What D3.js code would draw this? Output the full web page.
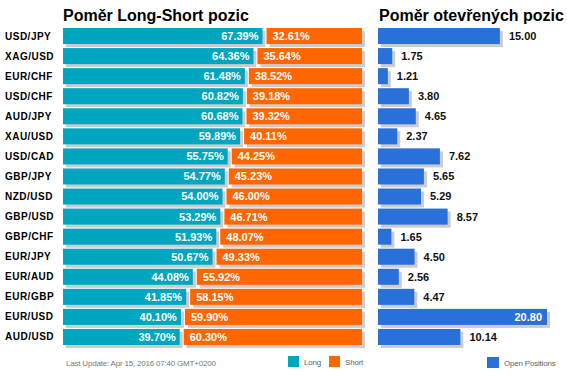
<!DOCTYPE html>
<html>
<head>
<meta charset="utf-8">
<script src="https://cdn.jsdelivr.net/npm/d3@7"></script>
<style>
  body { margin: 0; background: #fff; }
  svg { display: block; font-family: 'Liberation Sans', Arial, sans-serif; }
</style>
</head>
<body>
<div id="chart"></div>
<script>
const pairs = ['USD/JPY', 'XAG/USD', 'EUR/CHF', 'USD/CHF', 'AUD/JPY', 'XAU/USD', 'USD/CAD', 'GBP/JPY',
  'NZD/USD', 'GBP/USD', 'GBP/CHF', 'EUR/JPY', 'EUR/AUD', 'EUR/GBP', 'EUR/USD', 'AUD/USD'];
const longPct = [67.39, 64.36, 61.48, 60.82, 60.68, 59.89, 55.75, 54.77, 54.00, 53.29, 51.93, 50.67, 44.08, 41.85, 40.10, 39.70];
const shortPct = [32.61, 35.64, 38.52, 39.18, 39.32, 40.11, 44.25, 45.23, 46.00, 46.71, 48.07, 49.33, 55.92, 58.15, 59.90, 60.30];
const openPos = [15.00, 1.75, 1.21, 3.80, 4.65, 2.37, 7.62, 5.65, 5.29, 8.57, 1.65, 4.50, 2.56, 4.47, 20.80, 10.14];
const legendLS = ['Long', 'Short'];
const legendOpen = ['Open Positions'];
const lastUpdate = 'Last Update: Apr 15, 2016 07:40 GMT+0200';

const width = 567;
const height = 375;
const colLong = '#00a6c0';
const colShort = '#ff6600';
const colOpen = '#2970d9';
const colShadow = '#cccccc';

const rows = pairs.map((p, i) => ({ pair: p, long: longPct[i], short: shortPct[i], open: openPos[i] }));

const svg = d3.select('#chart').append('svg')
  .attr('width', width)
  .attr('height', height);

const y = d3.scaleBand()
  .domain(pairs)
  .range([26, 347])
  .paddingInner(0.2)
  .paddingOuter(0.1);
const bh = y.bandwidth();

const xLS = d3.scaleLinear().domain([0, 100]).range([63, 362]);
const xOpen = d3.scaleLinear().domain([0, 20.8]).range([378, 547]);
const fmt = d3.format('.2f');

// titles
svg.append('text').attr('x', 63).attr('y', 21)
  .attr('font-size', 16).attr('font-weight', 'bold').attr('fill', '#000')
  .text('Poměr Long-Short pozic');
svg.append('text').attr('x', 379).attr('y', 21)
  .attr('font-size', 16).attr('font-weight', 'bold').attr('fill', '#000')
  .text('Poměr otevřených pozic');

// row labels
svg.append('g').selectAll('text').data(rows).join('text')
  .attr('x', 5)
  .attr('y', d => y(d.pair) + bh / 2)
  .attr('dy', '0.35em')
  .attr('font-size', 10).attr('font-weight', 'bold').attr('fill', '#000')
  .attr('letter-spacing', 0.5)
  .text(d => d.pair);

const gap = 2;
const off = 3;

// long / short bars
const gLS = svg.append('g');
const rowLS = gLS.selectAll('g').data(rows).join('g')
  .attr('transform', d => `translate(0,${y(d.pair)})`);

rowLS.append('rect')
  .attr('x', xLS(0) + off).attr('y', off)
  .attr('width', d => xLS(d.long) - gap - xLS(0)).attr('height', bh)
  .attr('fill', colShadow);
rowLS.append('rect')
  .attr('x', d => xLS(d.long) + gap + off).attr('y', off)
  .attr('width', d => xLS(100) - xLS(d.long) - gap).attr('height', bh)
  .attr('fill', colShadow);
rowLS.append('rect')
  .attr('x', xLS(0)).attr('y', 0)
  .attr('width', d => xLS(d.long) - gap - xLS(0)).attr('height', bh)
  .attr('fill', colLong);
rowLS.append('rect')
  .attr('x', d => xLS(d.long) + gap).attr('y', 0)
  .attr('width', d => xLS(100) - xLS(d.long) - gap).attr('height', bh)
  .attr('fill', colShort);

rowLS.append('text')
  .attr('x', d => xLS(d.long) - gap - 4)
  .attr('y', bh / 2).attr('dy', '0.36em')
  .attr('text-anchor', 'end')
  .attr('font-size', 11).attr('font-weight', 'bold').attr('fill', '#fff')
  .text(d => fmt(d.long) + '%');
rowLS.append('text')
  .attr('x', d => xLS(d.long) + gap + 6)
  .attr('y', bh / 2).attr('dy', '0.36em')
  .attr('font-size', 11).attr('font-weight', 'bold').attr('fill', '#fff')
  .text(d => fmt(d.short) + '%');

// open positions bars
const gOP = svg.append('g');
const rowOP = gOP.selectAll('g').data(rows).join('g')
  .attr('transform', d => `translate(0,${y(d.pair)})`);

rowOP.append('rect')
  .attr('x', xOpen(0) + off).attr('y', off)
  .attr('width', d => xOpen(d.open) - xOpen(0)).attr('height', bh)
  .attr('fill', colShadow);
rowOP.append('rect')
  .attr('x', xOpen(0)).attr('y', 0)
  .attr('width', d => xOpen(d.open) - xOpen(0)).attr('height', bh)
  .attr('fill', colOpen);

const inside = d => xOpen(d.open) > 520;
rowOP.append('text')
  .attr('x', d => inside(d) ? xOpen(d.open) - 5 : xOpen(d.open) + 9)
  .attr('y', bh / 2).attr('dy', '0.36em')
  .attr('text-anchor', d => inside(d) ? 'end' : 'start')
  .attr('font-size', 11).attr('font-weight', 'bold')
  .attr('fill', d => inside(d) ? '#fff' : '#111')
  .text(d => fmt(d.open));

// footer
svg.append('text')
  .attr('x', 66).attr('y', 366)
  .attr('font-size', 8).attr('letter-spacing', -0.2).attr('fill', '#777')
  .text(lastUpdate);

const legX = [288, 329];
const legC = [colLong, colShort];
legendLS.forEach((t, i) => {
  svg.append('rect').attr('x', legX[i]).attr('y', 356).attr('width', 11).attr('height', 11).attr('fill', legC[i]);
  svg.append('text')
    .attr('x', legX[i] + 16).attr('y', 365)
    .attr('font-size', 8).attr('letter-spacing', -0.2).attr('fill', '#666').text(t);
});
legendOpen.forEach(t => {
  svg.append('rect').attr('x', 487).attr('y', 357).attr('width', 12).attr('height', 11).attr('fill', colOpen);
  svg.append('text')
    .attr('x', 504).attr('y', 366)
    .attr('font-size', 8).attr('letter-spacing', -0.2).attr('fill', '#666').text(t);
});
</script>
</body>
</html>
